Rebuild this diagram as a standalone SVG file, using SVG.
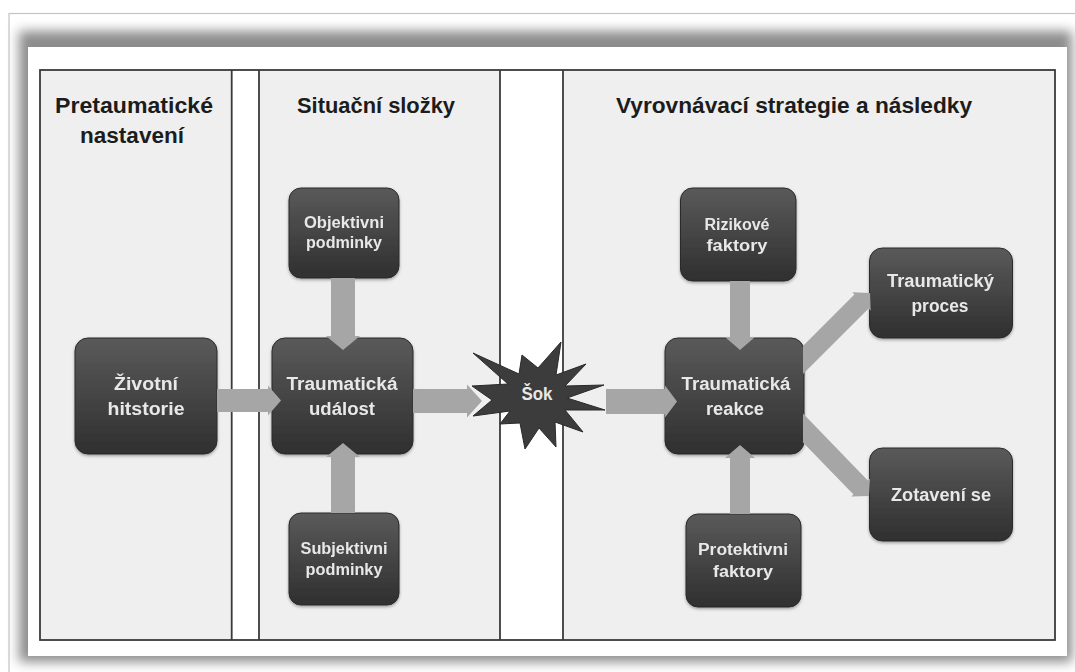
<svg xmlns="http://www.w3.org/2000/svg" width="1075" height="672" viewBox="0 0 1075 672">
<defs>
<linearGradient id="ng" x1="0" y1="0" x2="0" y2="1">
<stop offset="0" stop-color="#5a5a5a"/>
<stop offset="1" stop-color="#2f2f2f"/>
</linearGradient>
<filter id="blur" x="-5%" y="-8%" width="110%" height="116%">
<feGaussianBlur stdDeviation="6"/>
</filter>
<filter id="nsh" x="-10%" y="-10%" width="120%" height="125%">
<feDropShadow dx="0" dy="1.5" stdDeviation="1.5" flood-color="#000" flood-opacity="0.35"/>
</filter>
</defs>
<style>
.node rect{fill:url(#ng);stroke:#2a2a2a;stroke-width:1}
.nt{font-family:"Liberation Sans",Arial,sans-serif;font-weight:bold;fill:#e8e8e8;text-anchor:middle}
.s{font-size:16px}
.b{font-size:18px}
.hd{font-family:"Liberation Sans",Arial,sans-serif;font-weight:bold;font-size:22px;fill:#1c1c1c;text-anchor:middle}
.arr{fill:#a6a6a6}
.ln{stroke:#3a3a3a;stroke-width:1.8;fill:none}
</style>
<rect x="0" y="0" width="1075" height="672" fill="#ffffff"/>
<!-- outer frame and card -->
<rect x="9" y="13.5" width="1080" height="680" fill="#ffffff" stroke="#c4c4c4" stroke-width="1.2"/>
<rect x="19" y="31" width="1053" height="631" fill="#8c8c8c" filter="url(#blur)"/>
<rect x="28" y="47" width="1039" height="609" fill="#ffffff"/>
<!-- columns -->
<rect x="40" y="70" width="1015" height="570" fill="#efefef"/>
<rect x="231.7" y="70" width="27.3" height="570" fill="#ffffff"/>
<rect x="500" y="70" width="63" height="570" fill="#ffffff"/>
<rect x="40" y="70" width="1015" height="570" class="ln"/>
<line x1="231.7" y1="70" x2="231.7" y2="640" class="ln"/>
<line x1="259" y1="70" x2="259" y2="640" class="ln"/>
<line x1="500" y1="70" x2="500" y2="640" class="ln"/>
<line x1="563" y1="70" x2="563" y2="640" class="ln"/>
<!-- headers -->
<text class="hd" x="134" y="113" textLength="158" lengthAdjust="spacingAndGlyphs">Pretaumatické</text>
<text class="hd" x="132" y="143" textLength="104" lengthAdjust="spacingAndGlyphs">nastavení</text>
<text class="hd" x="376" y="113" textLength="158" lengthAdjust="spacingAndGlyphs">Situační složky</text>
<text class="hd" x="794" y="113" textLength="356" lengthAdjust="spacingAndGlyphs">Vyrovnávací strategie a následky</text>
<!-- nodes -->
<g id="zivotni" class="node" filter="url(#nsh)">
<rect x="75" y="338" width="142" height="116" rx="13"/>
<text class="nt b" x="146" y="390" textLength="64" lengthAdjust="spacingAndGlyphs">Životní</text>
<text class="nt b" x="146" y="415" textLength="77" lengthAdjust="spacingAndGlyphs">hitstorie</text>
</g>
<g id="udalost" class="node" filter="url(#nsh)">
<rect x="272" y="338" width="141" height="116" rx="13"/>
<text class="nt b" x="342" y="390" textLength="111" lengthAdjust="spacingAndGlyphs">Traumatická</text>
<text class="nt b" x="342" y="415" textLength="66" lengthAdjust="spacingAndGlyphs">událost</text>
</g>
<g id="objektivni" class="node" filter="url(#nsh)">
<rect x="289" y="188" width="110" height="90" rx="12"/>
<text class="nt s" x="344" y="228" textLength="80" lengthAdjust="spacingAndGlyphs">Objektivni</text>
<text class="nt s" x="344" y="248" textLength="76" lengthAdjust="spacingAndGlyphs">podminky</text>
</g>
<g id="subjektivni" class="node" filter="url(#nsh)">
<rect x="289" y="513" width="110" height="92" rx="12"/>
<text class="nt s" x="344" y="554" textLength="87" lengthAdjust="spacingAndGlyphs">Subjektivni</text>
<text class="nt s" x="344" y="575" textLength="77" lengthAdjust="spacingAndGlyphs">podminky</text>
</g>
<g id="sok">
<polygon points="473,353 519,374 522,355 538,368 561,342 556,375 586,364 565,386 604,385 567,398 605,410 565,410 583,432 555,422 556,447 539,428 525,449 520,423 500,424 510,411 473,416 492,400 472,386 508,384" fill="#3c3c3c" stroke="#2a2a2a" stroke-width="1"/>
<text class="nt b" x="537" y="400" textLength="31" lengthAdjust="spacingAndGlyphs">Šok</text>
</g>
<g id="reakce" class="node" filter="url(#nsh)">
<rect x="665" y="338" width="139" height="116" rx="13"/>
<text class="nt b" x="736" y="390" textLength="109" lengthAdjust="spacingAndGlyphs">Traumatická</text>
<text class="nt b" x="735" y="415" textLength="58" lengthAdjust="spacingAndGlyphs">reakce</text>
</g>
<g id="rizikove" class="node" filter="url(#nsh)">
<rect x="680.5" y="188" width="115.5" height="93" rx="12"/>
<text class="nt s" x="737" y="230" textLength="65" lengthAdjust="spacingAndGlyphs">Rizikové</text>
<text class="nt s" x="737" y="251" textLength="61" lengthAdjust="spacingAndGlyphs">faktory</text>
</g>
<g id="protektivni" class="node" filter="url(#nsh)">
<rect x="686" y="514" width="115" height="93" rx="12"/>
<text class="nt s" x="743" y="555" textLength="90" lengthAdjust="spacingAndGlyphs">Protektivni</text>
<text class="nt s" x="743" y="577" textLength="60" lengthAdjust="spacingAndGlyphs">faktory</text>
</g>
<g id="proces" class="node" filter="url(#nsh)">
<rect x="869.5" y="248" width="143" height="90" rx="13"/>
<text class="nt b" x="940.5" y="287" textLength="107" lengthAdjust="spacingAndGlyphs">Traumatický</text>
<text class="nt b" x="940" y="312" textLength="57" lengthAdjust="spacingAndGlyphs">proces</text>
</g>
<g id="zotaveni" class="node" filter="url(#nsh)">
<rect x="869.5" y="448" width="143" height="93" rx="13"/>
<text class="nt b" x="941" y="501" textLength="100" lengthAdjust="spacingAndGlyphs">Zotavení se</text>
</g>
<!-- connectors -->
<g id="connectors" class="arr">
<polygon points="217,389 268,389 268,385.5 281,400.5 268,415.5 268,412 217,412"/>
<polygon points="413,389 467,389 467,384.5 482,401 467,417.5 467,413 413,413"/>
<polygon points="606,389 665,389 665,385.5 677,401.5 665,417.5 665,414 606,414"/>
<polygon points="331,278 355,278 355,336 360,336 343,350 326,336 331,336"/>
<polygon points="331,513 355,513 355,457 360,457 343,443 326,457 331,457"/>
<polygon points="730,281 750,281 750,337 755,337 740,350 725,337 730,337"/>
<polygon points="730,514 750,514 750,458 755,458 740,445 725,458 730,458"/>
<polygon points="803,345.9 854.4,294.4 852.3,292.3 870,293 870.7,310.7 868.6,308.6 803,374.1"/>
<polygon points="803,413.6 867.8,480.4 870,478.4 869,496 851.3,496.4 853.5,494.4 803,442.4"/>
</g>
</svg>
